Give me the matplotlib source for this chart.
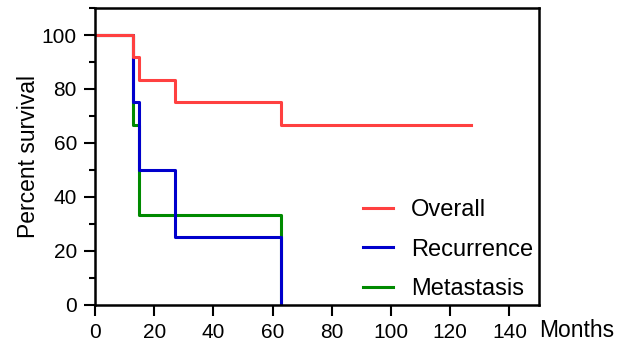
import matplotlib
matplotlib.use("Agg")
import matplotlib.pyplot as plt
from matplotlib.ticker import MultipleLocator

plt.rcParams['font.family'] = ['Liberation Sans', 'DejaVu Sans']

# Kaplan-Meier steps (months, percent)
overall_t = [0, 13, 15, 27, 63, 127]
overall_s = [100, 91.67, 83.33, 75, 66.67, 66.67]
recur_t = [0, 13, 15, 27, 63]
recur_s = [100, 75, 50, 25, 0]
meta_t = [0, 13, 15, 63]
meta_s = [100, 66.67, 33.33, 0]

fig = plt.figure(figsize=(6.18, 3.48), dpi=100)
ax = fig.add_axes([0.1537, 0.1236, 0.7185, 0.8534])

lw = 2.2
l3, = ax.step(meta_t, meta_s, where='post', color='#008a00', lw=lw, label='Metastasis')
l2, = ax.step(recur_t, recur_s, where='post', color='#0000cc', lw=lw, label='Recurrence')
l1, = ax.step(overall_t, overall_s, where='post', color='#ff4040', lw=lw, label='Overall')

ax.set_xlim(0, 150)
ax.set_ylim(0, 110)
ax.set_xticks(range(0, 141, 20))
ax.set_yticks(range(0, 101, 20))
ax.yaxis.set_minor_locator(MultipleLocator(10))

for s in ax.spines.values():
    s.set_linewidth(1.8)
ax.tick_params(axis='both', which='major', length=8, width=1.5, labelsize=15, pad=5)
ax.tick_params(axis='y', which='minor', length=4.5, width=1.5)

ax.set_ylabel('Percent survival', fontsize=16.5, labelpad=1)
ax.text(1.0, -0.085, 'Months', transform=ax.transAxes, fontsize=16.5,
        ha='left', va='center')

ax.legend(handles=[l1, l2, l3], loc='upper left', bbox_to_anchor=(0.603, 0.357),
          frameon=False, fontsize=17, handlelength=1.3, handletextpad=0.75,
          labelspacing=0.75, borderpad=0, borderaxespad=0)

fig.savefig('out.png', dpi=100)
